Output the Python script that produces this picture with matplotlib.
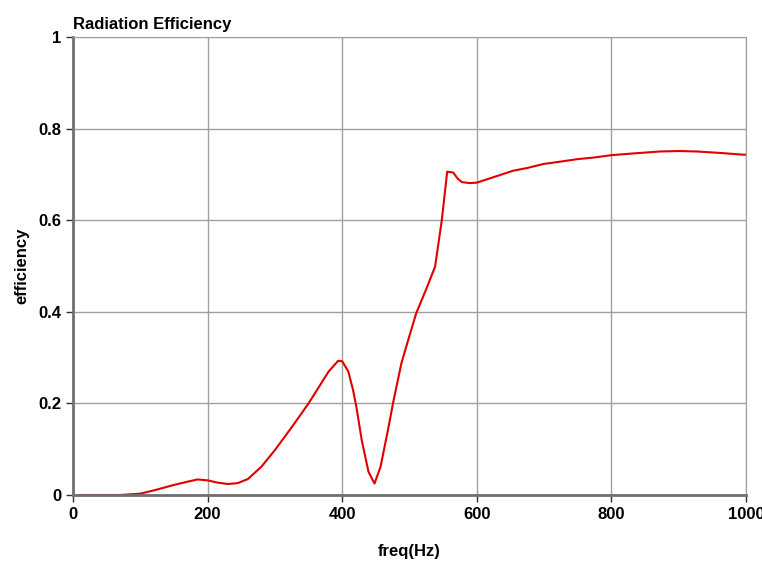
import matplotlib
matplotlib.use("Agg")
import matplotlib.pyplot as plt

plt.rcParams['font.family'] = ['Liberation Sans', 'DejaVu Sans']
plt.rcParams['font.weight'] = 'bold'

# values
freq = [10, 40, 70, 100, 120, 150, 170, 185, 200, 215, 230, 245, 260, 280, 300, 325,
        350, 380, 394, 400, 409, 416, 421, 429, 439, 448, 457, 468, 476, 488, 498,
        510, 525, 538, 548, 556, 565, 572, 578, 590, 600, 625, 654, 675, 699, 725,
        748, 775, 800, 835, 872, 900, 927, 960, 996, 1000]
eff = [0.0, 0.0, 0.0, 0.003, 0.01, 0.022, 0.029, 0.034, 0.032, 0.027, 0.024, 0.026,
       0.035, 0.062, 0.098, 0.148, 0.2, 0.27, 0.293, 0.292, 0.27, 0.23, 0.193, 0.12,
       0.051, 0.025, 0.062, 0.142, 0.204, 0.288, 0.338, 0.397, 0.45, 0.4985, 0.6,
       0.706, 0.704, 0.69, 0.683, 0.681, 0.682, 0.694, 0.708, 0.714, 0.7227, 0.728,
       0.733, 0.737, 0.742, 0.746, 0.750, 0.751, 0.750, 0.747, 0.743, 0.743]

xticks = [0, 200, 400, 600, 800, 1000]
yticks = [0, 0.2, 0.4, 0.6, 0.8, 1]
ytick_labels = ['0', '0.2', '0.4', '0.6', '0.8', '1']

fig = plt.figure(figsize=(7.62, 5.62), dpi=100)
ax = fig.add_axes([0.0958, 0.1192, 0.8832, 0.815])

ax.plot(freq, eff, color='#e00000', linewidth=1.5)

ax.set_xlim(0, 1000)
ax.set_ylim(0, 1)
ax.set_xticks(xticks)
ax.set_yticks(yticks)
ax.set_yticklabels(ytick_labels)
ax.grid(True, color='#a0a0a0', linewidth=1)
ax.set_axisbelow(True)
for s in ['top', 'right']:
    ax.spines[s].set_color('#a0a0a0')
for s in ['left', 'bottom']:
    ax.spines[s].set_color('#707070')
    ax.spines[s].set_linewidth(2)
ax.tick_params(axis='both', labelsize=12, length=5, color='#303030', width=1)

ax.set_title('Radiation Efficiency', loc='left', fontsize=12, fontweight='bold', pad=6)
ax.set_xlabel('freq(Hz)', fontsize=12, fontweight='bold', labelpad=16)
ax.set_ylabel('efficiency', fontsize=12, fontweight='bold', labelpad=6)

fig.savefig('out.png', dpi=100)
